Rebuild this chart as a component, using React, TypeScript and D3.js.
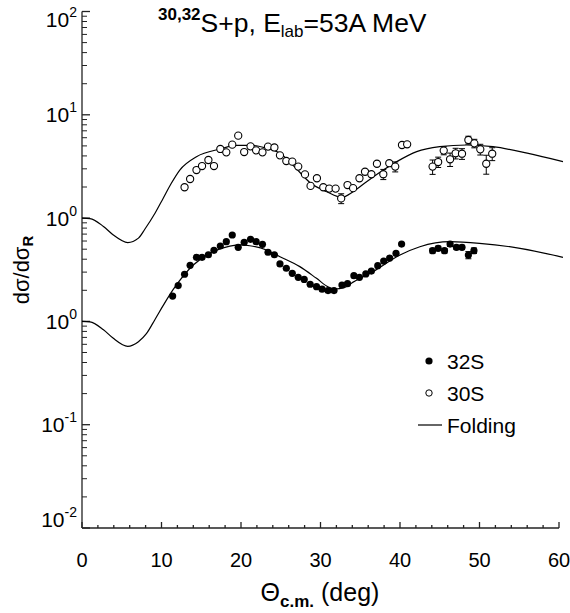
import React from 'react';
import * as d3 from 'd3';

// ---------- data ----------
const xTicks = [0, 10, 20, 30, 40, 50, 60];
const xMinorTicks = d3.range(0, 61, 2);
const yTickPositions = [1e-2, 1e-1, 1, 10, 100, 1000];
const yTickExponents = ['-2', '-1', '0', '0', '1', '2'];
const scale30 = 10; // 30S data and curve shifted one decade up

// 32S (filled circles)
const angles32 = [11.4, 12.1, 12.9, 13.6, 14.4, 15.1, 15.9, 16.6, 17.4, 18.15,
  18.9, 19.65, 20.4, 21.2, 21.9, 22.7, 23.4, 24.2, 24.9, 25.7,
  26.45, 27.2, 27.95, 28.7, 29.5, 30.2, 30.95, 31.7, 32.7, 33.4,
  34.2, 34.9, 35.7, 36.4, 37.2, 37.95, 38.7, 39.5, 40.2,
  44.1, 44.8, 45.6, 46.3, 47.1, 47.8, 48.6, 49.3];
const values32 = [1.76, 2.22, 2.86, 3.49, 4.17, 4.17, 4.42, 4.88, 5.37, 5.91,
  6.86, 5.21, 5.83, 6.23, 5.91, 5.57, 4.67, 4.42, 3.6, 3.27,
  2.92, 2.67, 2.55, 2.29, 2.17, 2.05, 1.99, 1.99, 2.25, 2.32,
  2.77, 2.67, 2.88, 3.07, 3.46, 3.84, 4.1, 4.56, 5.61,
  4.84, 5.1, 4.84, 5.61, 5.21, 5.21, 4.39, 4.84];
const errors32 = [0, 0, 0, 0, 0, 0, 0, 0, 0, 0,
  0, 0, 0, 0, 0, 0, 0, 0, 0, 0,
  0, 0, 0, 0, 0, 0, 0, 0, 0, 0,
  0, 0, 0, 0, 0, 0, 0, 0, 0,
  0.25, 0.25, 0.25, 0.3, 0.25, 0.25, 0.35, 0.3];

// 30S (open circles)
const angles30 = [12.9, 13.6, 14.4, 15.1, 15.9, 16.6, 17.4, 18.15, 18.9, 19.65,
  20.4, 21.2, 21.9, 22.7, 23.4, 24.2, 24.9, 25.7, 26.45, 27.2,
  28.05, 28.75, 29.55, 30.35, 31.1, 31.9, 32.6, 33.4, 34.1, 34.9,
  35.6, 36.4, 37.1, 37.9, 38.65, 39.4, 40.25, 40.9,
  44.1, 44.8, 45.5, 46.3, 47.0, 47.8, 48.6, 49.35, 50.1, 50.85, 51.6];
const values30 = [1.99, 2.39, 2.92, 3.19, 3.65, 3.19, 4.67, 4.33, 5.14, 6.28,
  4.36, 4.95, 4.53, 4.33, 4.92, 4.83, 4.05, 3.57, 3.52, 3.15,
  2.65, 2.05, 2.43, 1.99, 1.93, 1.93, 1.55, 2.09, 1.95, 2.43,
  2.81, 2.66, 3.36, 2.66, 3.4, 3.15, 5.1, 5.18,
  3.15, 3.49, 4.5, 3.71, 4.24, 4.2, 5.7, 5.29, 4.63, 3.36, 4.2];
const errors30 = [0, 0, 0, 0, 0, 0, 0, 0, 0, 0,
  0, 0, 0, 0, 0, 0, 0, 0, 0, 0,
  0, 0, 0, 0, 0, 0, 0.17, 0, 0, 0,
  0, 0, 0, 0.3, 0, 0.35, 0, 0,
  0.5, 0.4, 0.4, 0.55, 0.5, 0.5, 0.5, 0.5, 0.55, 0.7, 0.6];

// Folding curves
const curve32Angles = [0, 1, 2.7, 3.9, 5.75, 7.1, 8.1, 9.2, 10.2, 11.5, 14, 16.5, 18.6, 20, 21.1,
  23.2, 24.9, 27.4, 29.5, 31, 31.8, 33, 34.1, 36.6, 40, 42.5, 46.3, 50, 55.1, 60.5];
const curve32Values = [1.0, 0.99, 0.83, 0.69, 0.574, 0.636, 0.76, 1.05, 1.42, 2.05, 3.52, 4.73, 5.35, 5.5, 5.4,
  4.91, 4.23, 3.39, 2.61, 2.15, 2.06, 2.12, 2.4, 3.03, 4.39, 5.28, 5.91, 5.7, 5.1, 4.17];
const curve30Angles = [0, 1, 2.7, 3.9, 5.75, 7.1, 7.9, 9.2, 10.2, 11.2, 12.3, 14.4, 17.4, 19.5, 21.5,
  23.2, 24.9, 26.8, 28.7, 30.8, 32.7, 34.1, 35.8, 37.9, 39.6, 42.1, 45, 48.4, 51.7, 56, 60.5];
const curve30Values = [1.0, 0.99, 0.83, 0.69, 0.58, 0.64, 0.78, 1.12, 1.55, 2.15, 2.92, 3.93, 4.67, 5.05, 5.05,
  4.75, 4.24, 3.1, 2.2, 1.8, 1.59, 1.8, 2.25, 2.92, 3.52, 4.4, 4.91, 5.1, 4.91, 4.25, 3.52];

const legendLabels = ['32S', '30S', 'Folding'];

// ---------- chart ----------
const W = 570;
const H = 613;
const FONT = '"Liberation Sans", Arial, Helvetica, sans-serif';

export default function App() {
  const x = d3.scaleLinear().domain([0, 60]).range([82, 559]);
  const y = d3.scaleLog().domain([1e-2, 1e3]).range([528, 11.5]);

  const line = d3
    .line<[number, number]>()
    .x((d) => x(d[0]))
    .y((d) => y(d[1]))
    .curve(d3.curveMonotoneX);

  const c32 = line(curve32Angles.map((a, i) => [a, curve32Values[i]]) as [number, number][]) || '';
  const c30 = line(curve30Angles.map((a, i) => [a, curve30Values[i] * scale30]) as [number, number][]) || '';

  const yMinor: number[] = [];
  for (let e = -2; e <= 2; e++) {
    for (let k = 2; k <= 9; k++) yMinor.push(k * Math.pow(10, e));
  }

  const x0 = x(0);
  const yBottom = y(1e-2);
  const r = 3.6;

  const errBar = (a: number, v: number, e: number, key: string) => {
    if (!e) return null;
    const cx = x(a);
    const yt = y(v + e);
    const yb = y(v - e);
    return (
      <g key={key} stroke="#000" strokeWidth={1}>
        <line x1={cx} x2={cx} y1={yt} y2={yb} />
        <line x1={cx - 3} x2={cx + 3} y1={yt} y2={yt} />
        <line x1={cx - 3} x2={cx + 3} y1={yb} y2={yb} />
      </g>
    );
  };

  // end labels are nudged inward, as in the reference
  const labelShift = (i: number) => (i === 0 ? -9 : i === yTickPositions.length - 1 ? 8 : 0);

  const legY = [361, 393, 425];

  return (
    <svg
      width={W}
      height={H}
      viewBox={`0 0 ${W} ${H}`}
      style={{ position: 'absolute', left: 0, top: 0, background: '#fff' }}
      fontFamily={FONT}
    >
      <rect x={0} y={0} width={W} height={H} fill="#fff" />

      {/* axes */}
      <g stroke="#222" strokeWidth={1.3} fill="none">
        <line x1={x0} x2={x0} y1={y(1e3)} y2={yBottom} />
        <line x1={x0} x2={x(60)} y1={yBottom} y2={yBottom} />
        {xMinorTicks.map((t) => (
          <line key={'xm' + t} x1={x(t)} x2={x(t)} y1={yBottom} y2={yBottom - (t % 10 === 0 ? 6 : 3)} />
        ))}
        {yMinor.map((t, i) => (
          <line key={'ym' + i} x1={x0} x2={x0 + 5} y1={y(t)} y2={y(t)} strokeWidth={1} />
        ))}
        {yTickPositions.map((t) => (
          <line key={'yM' + t} x1={x0} x2={x0 + 8} y1={y(t)} y2={y(t)} />
        ))}
      </g>

      {/* x tick labels */}
      {xTicks.map((t) => (
        <text key={'xl' + t} x={x(t)} y={567} textAnchor="middle" fontSize={20} fill="#000">
          {t}
        </text>
      ))}

      {/* y tick labels */}
      {yTickPositions.map((t, i) => (
        <text key={'yl' + t} x={77} y={y(t) + 7.5 + labelShift(i)} textAnchor="end" fontSize={21} fill="#000">
          10
          <tspan fontSize={14} dy={-10}>
            {yTickExponents[i]}
          </tspan>
        </text>
      ))}

      {/* axis titles */}
      <text x={320} y={601} textAnchor="middle" fontSize={25} fill="#000">
        Θ
        <tspan fontSize={17} fontWeight="bold" dy={6}>
          c.m.
        </tspan>
        <tspan dy={-6}> (deg)</tspan>
      </text>
      <text transform="translate(29,270) rotate(-90)" textAnchor="middle" fontSize={22} fill="#000">
        dσ/dσ
        <tspan fontSize={15} fontWeight="bold" dy={4}>
          R
        </tspan>
      </text>

      {/* title */}
      <text x={158} y={32} fontSize={26.5} fill="#000">
        <tspan fontSize={17} fontWeight="bold" dy={-12}>
          30,32
        </tspan>
        <tspan dy={12}>S+p, E</tspan>
        <tspan fontSize={17} dy={5}>
          lab
        </tspan>
        <tspan dy={-5}>=53A MeV</tspan>
      </text>

      {/* curves */}
      <path d={c30} fill="none" stroke="#000" strokeWidth={1.2} />
      <path d={c32} fill="none" stroke="#000" strokeWidth={1.2} />

      {/* error bars */}
      {angles30.map((a, i) => errBar(a, values30[i] * scale30, errors30[i] * scale30, 'e30' + i))}
      {angles32.map((a, i) => errBar(a, values32[i], errors32[i], 'e32' + i))}

      {/* points */}
      {angles30.map((a, i) => (
        <circle key={'p30' + i} cx={x(a)} cy={y(values30[i] * scale30)} r={r} fill="#fff" stroke="#000" strokeWidth={1.1} />
      ))}
      {angles32.map((a, i) => (
        <circle key={'p32' + i} cx={x(a)} cy={y(values32[i])} r={r} fill="#000" />
      ))}

      {/* legend */}
      <circle cx={429} cy={legY[0]} r={r} fill="#000" />
      <circle cx={429} cy={legY[1]} r={3.2} fill="#fff" stroke="#000" strokeWidth={1} />
      <line x1={418} x2={442} y1={legY[2]} y2={legY[2]} stroke="#000" strokeWidth={1.2} />
      {legendLabels.map((l, i) => (
        <text key={l} x={447} y={legY[i] + 7.5} fontSize={21} fill="#000">
          {l}
        </text>
      ))}
    </svg>
  );
}
